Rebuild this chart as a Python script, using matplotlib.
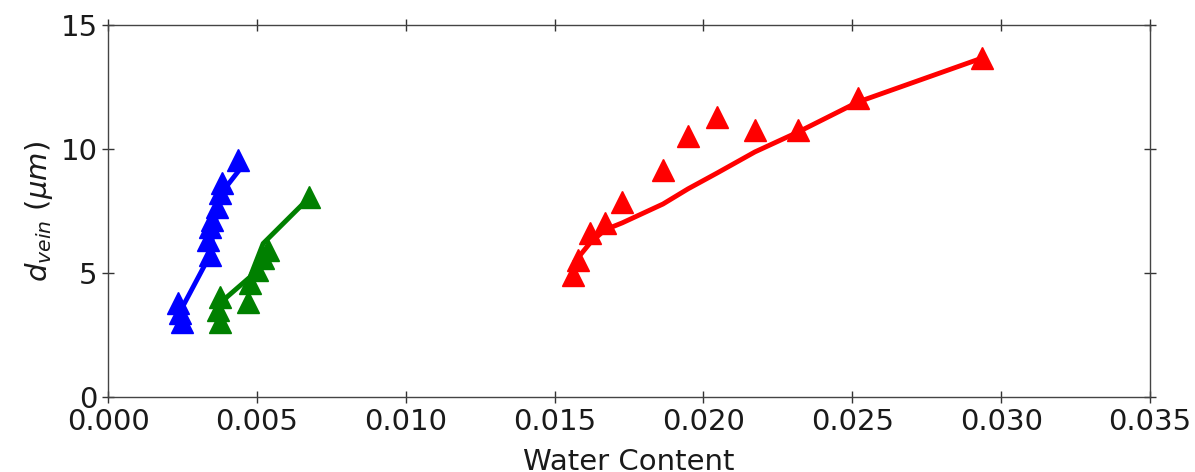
import matplotlib
matplotlib.use('Agg')
import matplotlib.pyplot as plt

# measured points (triangles)
blue_x = [0.00437, 0.00383, 0.00376, 0.00366, 0.00349, 0.00343, 0.00336, 0.00343, 0.00235, 0.00242, 0.00249]
blue_y = [9.56, 8.64, 8.23, 7.67, 7.15, 6.87, 6.34, 5.74, 3.81, 3.40, 3.04]
green_x = [0.00676, 0.00537, 0.00521, 0.00500, 0.00477, 0.00470, 0.00376, 0.00369, 0.00376]
green_y = [8.07, 5.94, 5.62, 5.13, 4.61, 3.85, 4.05, 3.52, 3.04]
red_x = [0.01562, 0.01579, 0.01619, 0.01669, 0.01727, 0.01864, 0.01948, 0.02046, 0.02173, 0.02318, 0.02519, 0.02936]
red_y = [4.93, 5.54, 6.62, 7.03, 7.87, 9.16, 10.53, 11.30, 10.77, 10.77, 12.06, 13.67]

# model curves
blue_fit_x = [0.00235, 0.00343, 0.00352, 0.00368, 0.00385, 0.00437]
blue_fit_y = [3.30, 5.74, 6.60, 7.50, 8.30, 9.10]
green_fit_x = [0.00370, 0.00400, 0.00477, 0.00521, 0.00672]
green_fit_y = [3.60, 4.05, 4.85, 6.20, 8.00]
red_fit_x = [0.01570, 0.01619, 0.01669, 0.01727, 0.01864, 0.01948, 0.02046, 0.02173, 0.02318, 0.02519, 0.02936]
red_fit_y = [5.50, 6.22, 6.75, 7.03, 7.79, 8.40, 9.04, 9.89, 10.69, 11.90, 13.67]

fig = plt.figure(figsize=(11.95, 4.72), dpi=100)
ax = fig.add_axes([0.0904, 0.158, 0.8720, 0.789])

for fx, fy, c in [(blue_fit_x, blue_fit_y, 'blue'), (green_fit_x, green_fit_y, 'green'), (red_fit_x, red_fit_y, 'red')]:
    ax.plot(fx, fy, '-', color=c, lw=3.5)
for mx, my, c in [(blue_x, blue_y, 'blue'), (green_x, green_y, 'green'), (red_x, red_y, 'red')]:
    ax.plot(mx, my, '^', color=c, ms=16, ls='none')

ax.set_xlim(0, 0.035)
ax.set_ylim(0, 15)
ax.set_xticks([0.000, 0.005, 0.010, 0.015, 0.020, 0.025, 0.030, 0.035])
ax.set_yticks([0, 5, 10, 15])
ax.tick_params(direction='inout', length=8, width=1, top=True, right=True,
               labelsize=21, colors='#333333', labelcolor='#1a1a1a')
for s in ax.spines.values():
    s.set_color('#444444')
    s.set_linewidth(1)
ax.set_xlabel('Water Content', fontsize=21, labelpad=9, color='#1a1a1a')
ax.set_ylabel(r'$d_{vein}\ (\mu m)$', fontsize=21, labelpad=4, color='#1a1a1a')

fig.savefig('out.png', dpi=100)
